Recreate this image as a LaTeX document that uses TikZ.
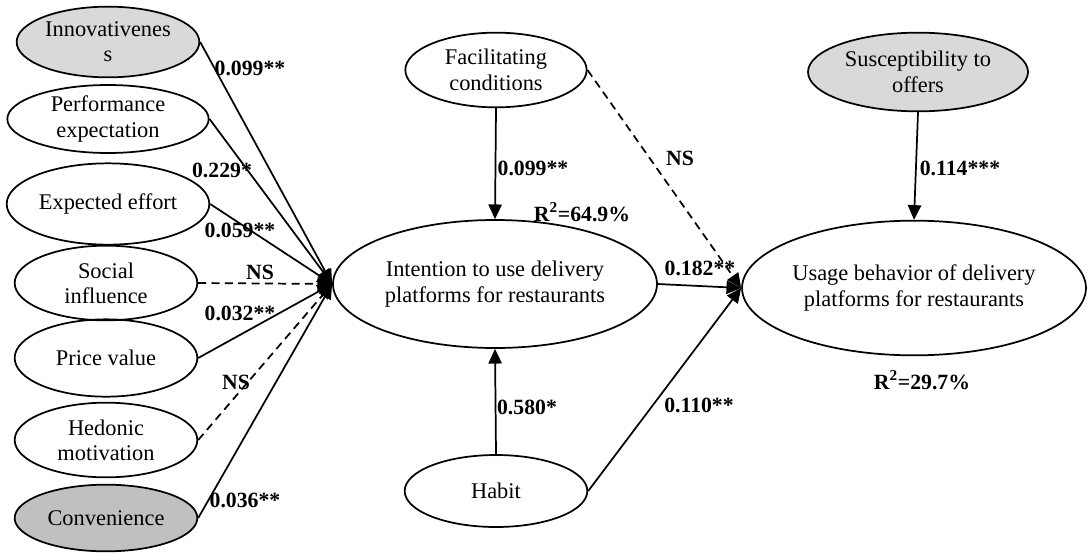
\documentclass[tikz,border=0pt]{standalone}
\usepackage{fontspec}
\setmainfont{Liberation Serif}
\usetikzlibrary{shapes.geometric,arrows.meta}

\definecolor{lightshade}{HTML}{D9D9D9}
\definecolor{darkshade}{HTML}{C0C0C0}

\begin{document}
\begin{tikzpicture}[x=0.75pt, y=-0.75pt,
    construct/.style={draw, ellipse, line width=1.3pt, inner sep=0pt, align=center,
        font=\fontsize{16.8}{19}\selectfont},
    effect/.style={line width=1.3pt, -{Triangle[width=10pt,length=11pt]}},
    nseffect/.style={effect, dash pattern=on 6pt off 4pt},
    coef/.style={font=\bfseries\fontsize{16.3}{18}\selectfont, inner sep=0pt}]
        \useasboundingbox (0,0) rectangle (1087,553);

        % Node definitions
        \node (innov) [construct, fill=lightshade, minimum width=137pt, minimum height=53pt] at (108,42) {Innovativenes\\s};
        \node (perf) [construct, minimum width=151pt, minimum height=51pt] at (108,119) {Performance\\expectation};
        \node (effort) [construct, minimum width=152pt, minimum height=61pt] at (108,204) {Expected effort};
        \node (social) [construct, minimum width=137pt, minimum height=56pt] at (106,283) {Social\\influence};
        \node (price) [construct, minimum width=137pt, minimum height=58pt] at (106,358) {Price value};
        \node (hedonic) [construct, minimum width=137pt, minimum height=56pt] at (106,440) {Hedonic\\motivation};
        \node (conv) [construct, fill=darkshade, minimum width=137pt, minimum height=50pt] at (106,518) {Convenience};

        \node (intent) [construct, minimum width=243pt, minimum height=96pt] at (495,284) {Intention to use delivery\\platforms for restaurants};
        \node (facil) [construct, minimum width=136pt, minimum height=56pt] at (496,70) {Facilitating\\conditions};
        \node (habit) [construct, minimum width=137pt, minimum height=54pt] at (496,491) {Habit};

        \node (suscept) [construct, fill=lightshade, minimum width=165pt, minimum height=59pt] at (918,72) {Susceptibility to\\offers};
        \node (usage) [construct, minimum width=257pt, minimum height=101pt] at (914,288) {Usage behavior of delivery\\platforms for restaurants};

        % Paths
        \draw [effect] (innov.east) -- (intent.west);
        \draw [effect] (perf.east) -- (intent.west);
        \draw [effect] (effort.east) -- (intent.west);
        \draw [nseffect] (social.east) -- (intent.west);
        \draw [effect] (price.east) -- (intent.west);
        \draw [nseffect] (hedonic.east) -- (intent.west);
        \draw [effect] (conv.east) -- (intent.west);

        \draw [effect] (facil.south) -- (intent.north);
        \draw [effect] (habit.north) -- (intent.south);
        \draw [nseffect] (facil.east) -- (usage.west);
        \draw [effect] (intent.east) -- (usage.west);
        \draw [effect] (habit.east) -- (usage.west);
        \draw [effect] (suscept.south) -- (usage.north);

        % Coefficients
        \node (cinnov) [coef] at (250,68) {0.099**};
        \node (cperf) [coef] at (222,170) {0.229*};
        \node (ceffort) [coef] at (240,230) {0.059**};
        \node (csocial) [coef] at (260,272) {NS};
        \node (cprice) [coef] at (240,313) {0.032**};
        \node (chedonic) [coef] at (236,382) {NS};
        \node (cconv) [coef] at (245,500) {0.036**};
        \node (cfacil) [coef] at (533,168) {0.099**};
        \node (chabit) [coef] at (527,407) {0.580*};
        \node (cfacilns) [coef] at (680,158) {NS};
        \node (cintent) [coef] at (700,268) {0.182**};
        \node (chabitu) [coef] at (699,405) {0.110**};
        \node (csuscept) [coef] at (960,168) {0.114***};

        \node (rintent) [coef] at (582,212) {R\textsuperscript{2}=64.9\%};
        \node (rusage) [coef] at (922,380) {R\textsuperscript{2}=29.7\%};
    \end{tikzpicture}
\end{document}
